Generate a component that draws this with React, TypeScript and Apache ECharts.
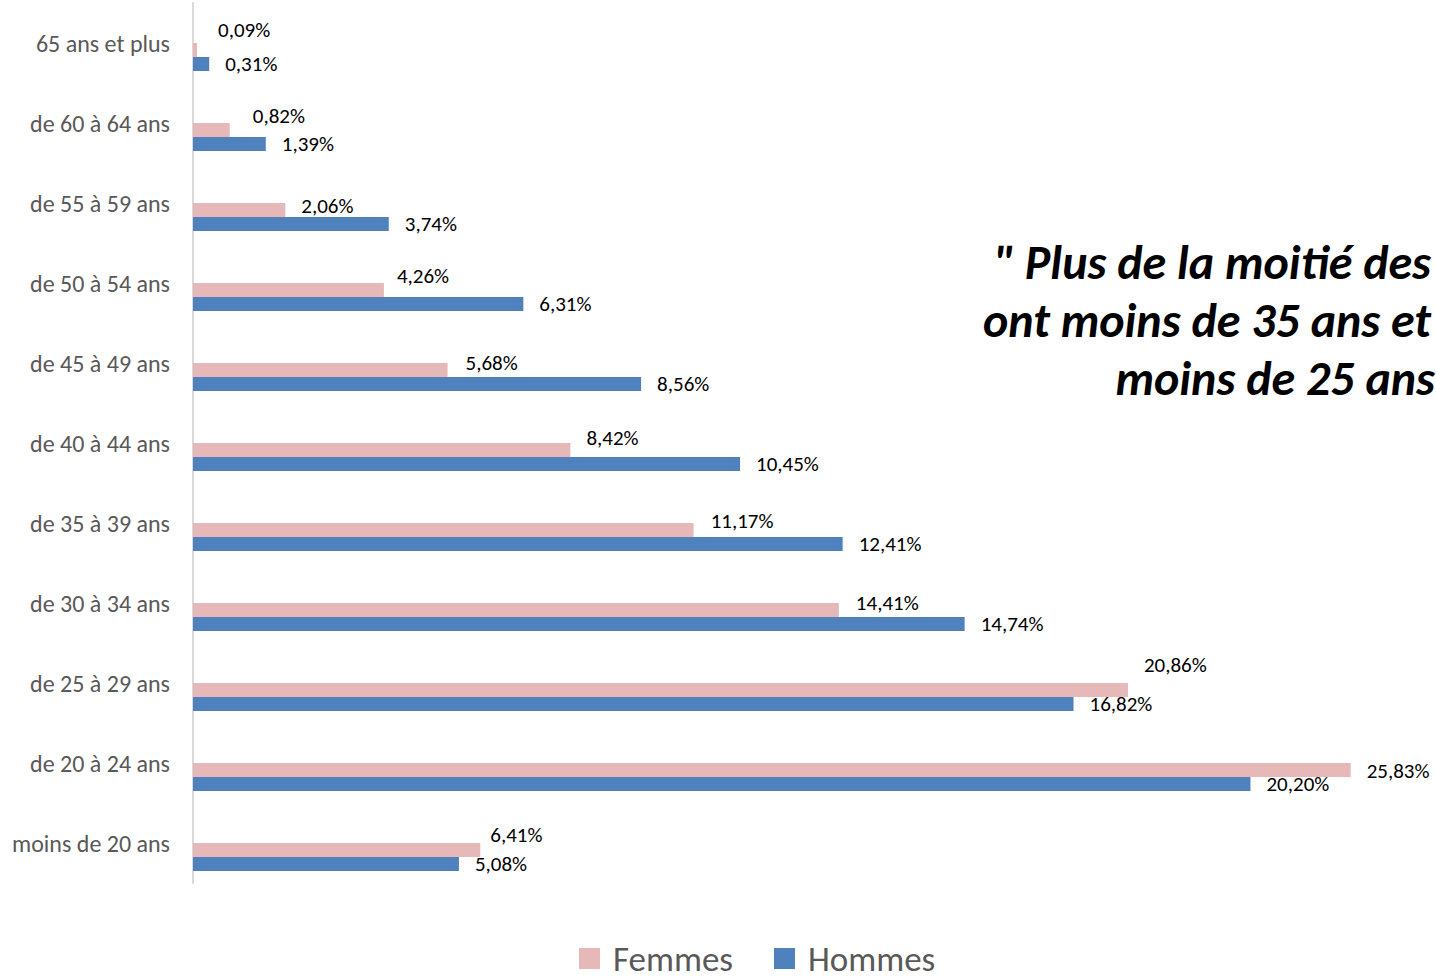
import React, { useEffect, useRef } from "react";
import * as echarts from "echarts";

const categories = [
  "moins de 20 ans",
  "de 20 à 24 ans",
  "de 25 à 29 ans",
  "de 30 à 34 ans",
  "de 35 à 39 ans",
  "de 40 à 44 ans",
  "de 45 à 49 ans",
  "de 50 à 54 ans",
  "de 55 à 59 ans",
  "de 60 à 64 ans",
  "65 ans et plus",
];
const femmes = [6.41, 25.83, 20.86, 14.41, 11.17, 8.42, 5.68, 4.26, 2.06, 0.82, 0.09];
const hommes = [5.08, 20.2, 16.82, 14.74, 12.41, 10.45, 8.56, 6.31, 3.74, 1.39, 0.31];
const femmesLabelShiftX = [-6, 0, 0, 1, 1, 0, 2, -3, 0, 7, 5];
const femmesLabelShiftY = [-15, 1, -25, -7, -9, -12, -7, -14, -4, -14, -20];
const annotationLines = ['" Plus de la moitié des', "ont moins de 35 ans et", "moins de 25 ans"];
const annotationRight = [1431, 1431, 1435];
const legendNames = ["Femmes", "Hommes"];

const FONT = "Carlito, Lato, 'Open Sans', sans-serif";
const GRID_W = 1227;
const HOMMES_MAX = GRID_W / 52.35;
const FEMMES_MAX = GRID_W / 44.82;

const fmt = (v: number) => v.toFixed(2).replace(".", ",") + "%";

export default function App() {
  const ref = useRef<HTMLDivElement>(null);
  useEffect(() => {
    if (!ref.current) return;
    const chart = echarts.init(ref.current, undefined, { renderer: "svg" });
    const spacer = (name: string) => ({
      type: "bar",
      name,
      data: [],
      barWidth: 14,
      barGap: "0%",
      xAxisIndex: 0,
      yAxisIndex: 0,
      silent: true,
    });
    const dataLabel = {
      show: true,
      position: "right",
      distance: 16,
      fontSize: 21,
      color: "#000000",
      fontFamily: FONT,
      formatter: (p: any) => fmt(p.value),
    };
    chart.setOption({
      animation: false,
      textStyle: { fontFamily: FONT },
      grid: { left: 193, top: 3, width: GRID_W, height: 880, containLabel: false },
      legend: {
        data: legendNames,
        left: 579,
        top: 941,
        padding: 0,
        icon: "rect",
        itemWidth: 21,
        itemHeight: 21,
        itemGap: 41,
        textStyle: { fontSize: 35, color: "#595959", fontFamily: FONT, padding: [0, 0, 3, 8], lineHeight: 26 },
        selectedMode: false,
      },
      xAxis: [
        { type: "value", min: 0, max: HOMMES_MAX, show: false, splitLine: { show: false } },
        { type: "value", min: 0, max: FEMMES_MAX, show: false, splitLine: { show: false } },
      ],
      yAxis: {
        type: "category",
        data: categories,
        axisLine: { show: true, lineStyle: { color: "#D9D9D9", width: 2 } },
        axisTick: { show: false },
        axisLabel: { fontSize: 24, color: "#595959", margin: 23, fontFamily: FONT },
        splitLine: { show: false },
      },
      graphic: annotationLines.map((t, i) => ({
        type: "text",
        x: annotationRight[i],
        y: 262 + i * 58,
        style: {
          text: t,
          textAlign: "right",
          textVerticalAlign: "middle",
          font: `italic bold 48px ${FONT}`,
          fill: "#000000",
        },
      })),
      series: [
        spacer("_s1"),
        spacer("_s2"),
        {
          type: "bar",
          name: "Femmes",
          xAxisIndex: 1,
          yAxisIndex: 0,
          barWidth: 14,
          barGap: "0%",
          itemStyle: { color: "#E6B9B8" },
          data: femmes.map((v, i) => ({
            value: v,
            label: { offset: [femmesLabelShiftX[i], femmesLabelShiftY[i]] },
          })),
          label: dataLabel,
        },
        {
          type: "bar",
          name: "Hommes",
          xAxisIndex: 0,
          yAxisIndex: 0,
          barWidth: 14,
          barGap: "0%",
          itemStyle: { color: "#4F81BD" },
          data: hommes,
          label: dataLabel,
        },
      ],
    });
    return () => chart.dispose();
  }, []);
  return (
    <div
      ref={ref}
      style={{ position: "absolute", left: 0, top: 0, width: 1436, height: 978 }}
    />
  );
}
